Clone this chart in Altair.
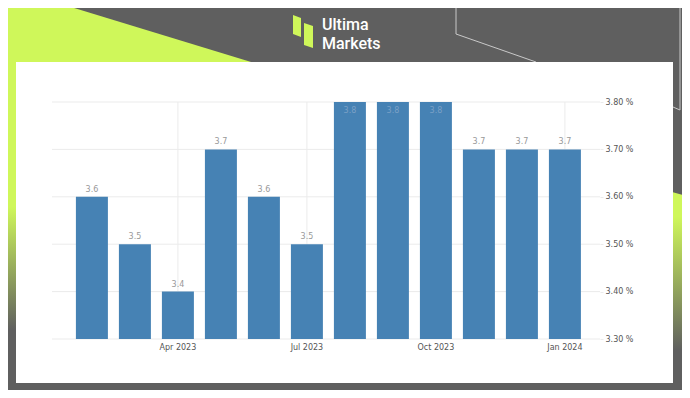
import altair as alt
import pandas as pd

# ---------------- data ----------------
months = ["Feb 2023", "Mar 2023", "Apr 2023", "May 2023", "Jun 2023", "Jul 2023",
          "Aug 2023", "Sep 2023", "Oct 2023", "Nov 2023", "Dec 2023", "Jan 2024"]
values = [3.6, 3.5, 3.4, 3.7, 3.6, 3.5, 3.8, 3.8, 3.8, 3.7, 3.7, 3.7]
x_labels = ["Apr 2023", "Jul 2023", "Oct 2023", "Jan 2024"]
y_ticks = [3.3, 3.4, 3.5, 3.6, 3.7, 3.8]
Y_MIN, Y_MAX = 3.3, 3.8
logo_lines = ["Ultima", "Markets"]

# ---------------- style ----------------
GRAY = "#5f5f5f"
LIME = "#cff75a"
BAR = "#4682b4"
GRID = "#ebebeb"
LINE = "#c9c9c9"
FONT = "DejaVu Sans"

# plot area placement in page pixels
PX0, PY0 = 52, 102
W, H = 548, 237


def X(x):
    return x - PX0


def Y(y):
    return y - PY0


def poly(pts):
    return "M" + " L".join(f"{X(x)},{Y(y)}" for x, y in pts) + " Z"


one = pd.DataFrame({"d": [0]})
df = pd.DataFrame({"month": months, "value": values})


def shape_layer(pts, fill):
    return alt.Chart(one).mark_point(
        shape=poly(pts), filled=True, size=4, opacity=1, strokeWidth=0, fill=fill
    ).encode(x=alt.value(0), y=alt.value(0))


def rect_layer(x0, y0, x1, y1, fill):
    return alt.Chart(one).mark_rect(fill=fill).encode(
        x=alt.value(X(x0)), x2=alt.value(X(x1)), y=alt.value(Y(y0)), y2=alt.value(Y(y1))
    )


def seg_layer(x0, y0, x1, y1):
    return alt.Chart(one).mark_rule(color=LINE, strokeWidth=1).encode(
        x=alt.value(X(x0)), x2=alt.value(X(x1)), y=alt.value(Y(y0)), y2=alt.value(Y(y1))
    )


left_grad = {
    "gradient": "linear", "x1": 0, "x2": 0, "y1": 0, "y2": 1,
    "stops": [
        {"offset": 0.0, "color": LIME},
        {"offset": 0.52, "color": LIME},
        {"offset": 0.83, "color": GRAY},
        {"offset": 1.0, "color": GRAY},
    ],
}
right_grad = {
    "gradient": "linear", "x1": 0, "x2": 0, "y1": 0, "y2": 1,
    "stops": [
        {"offset": 0.0, "color": LIME},
        {"offset": 0.12, "color": LIME},
        {"offset": 0.77, "color": GRAY},
        {"offset": 1.0, "color": GRAY},
    ],
}

decor = [
    shape_layer([(0, 0), (48, 0), (261, 65), (0, 65)], LIME),
    rect_layer(0, 0, 17, 398, left_grad),
    shape_layer([(672, 192), (690, 197), (690, 398), (672, 398)], right_grad),
    seg_layer(456, 0, 456, 34),
    seg_layer(456, 34, 536, 62),
    seg_layer(680, 0, 680, 110),
    seg_layer(680, 110, 673, 107),
    rect_layer(16, 62, 673, 383, "white"),
    # logo icon
    shape_layer([(293, 15), (301, 18), (301, 37), (293, 34)], LIME),
    shape_layer([(304, 23), (313, 26), (313, 48), (304, 45)], LIME),
]

logo_text = alt.Chart(one).mark_text(
    text=logo_lines, font="Roboto", fontSize=16, fontWeight=500, lineHeight=19, color="white",
    align="left", baseline="alphabetic"
).encode(x=alt.value(X(322)), y=alt.value(Y(29.5)))

# ---------------- scales / axes ----------------
xscale = alt.Scale(domain=months, paddingInner=0.256, paddingOuter=0.5, align=0.556)
yscale = alt.Scale(domain=[Y_MIN, Y_MAX], nice=False, zero=False)

x_axis = alt.Axis(
    values=x_labels, title=None, grid=False, ticks=False, domain=False,
    labelAngle=0, labelFont=FONT, labelFontSize=8, labelColor="#555555",
    labelPadding=4, zindex=1,
)
y_axis = alt.Axis(
    values=y_ticks, orient="right", title=None, grid=False, domain=False,
    ticks=True, tickSize=3, tickColor=GRID, labelPadding=2,
    labelExpr="format(datum.value, '.2f') + ' %'",
    labelFont=FONT, labelFontSize=8, labelColor="#555555", zindex=1,
)

hgrid = alt.Chart(pd.DataFrame({"tick": y_ticks})).mark_rule(color=GRID, strokeWidth=1).encode(
    y=alt.Y("tick:Q", scale=yscale, axis=y_axis)
)
vgrid = alt.Chart(pd.DataFrame({"month": x_labels})).mark_rule(color=GRID, strokeWidth=1).encode(
    x=alt.X("month:N", scale=xscale, axis=x_axis)
)

bars = alt.Chart(df).mark_bar(color=BAR).encode(
    x=alt.X("month:N", scale=xscale, axis=x_axis, sort=None),
    y=alt.Y("value:Q", scale=yscale, axis=y_axis),
    y2=alt.datum(Y_MIN),
)

above = alt.Chart(df).transform_filter(f"datum.value < {Y_MAX}").mark_text(
    baseline="bottom", dy=-3, font=FONT, fontSize=8, color="#999999"
).encode(
    x=alt.X("month:N", scale=xscale, axis=x_axis, sort=None),
    y=alt.Y("value:Q", scale=yscale, axis=y_axis),
    text=alt.Text("value:Q", format=".1f"),
)
inside = alt.Chart(df).transform_filter(f"datum.value >= {Y_MAX}").mark_text(
    baseline="top", dy=5, font=FONT, fontSize=8, color="#7aa0c6"
).encode(
    x=alt.X("month:N", scale=xscale, axis=x_axis, sort=None),
    y=alt.Y("value:Q", scale=yscale, axis=y_axis),
    text=alt.Text("value:Q", format=".1f"),
)

chart = alt.layer(*decor, logo_text, hgrid, vgrid, bars, above, inside).properties(
    width=W, height=H,
    autosize=alt.AutoSizeParams(type="none"),
    padding={"left": PX0 - 8, "top": PY0 - 8, "right": 690 - 8 - PX0 - W, "bottom": 398 - 8 - PY0 - H},
    background=GRAY,
).configure_view(stroke=None)

chart.save("out.html", embed_options={"renderer": "svg", "actions": False})
